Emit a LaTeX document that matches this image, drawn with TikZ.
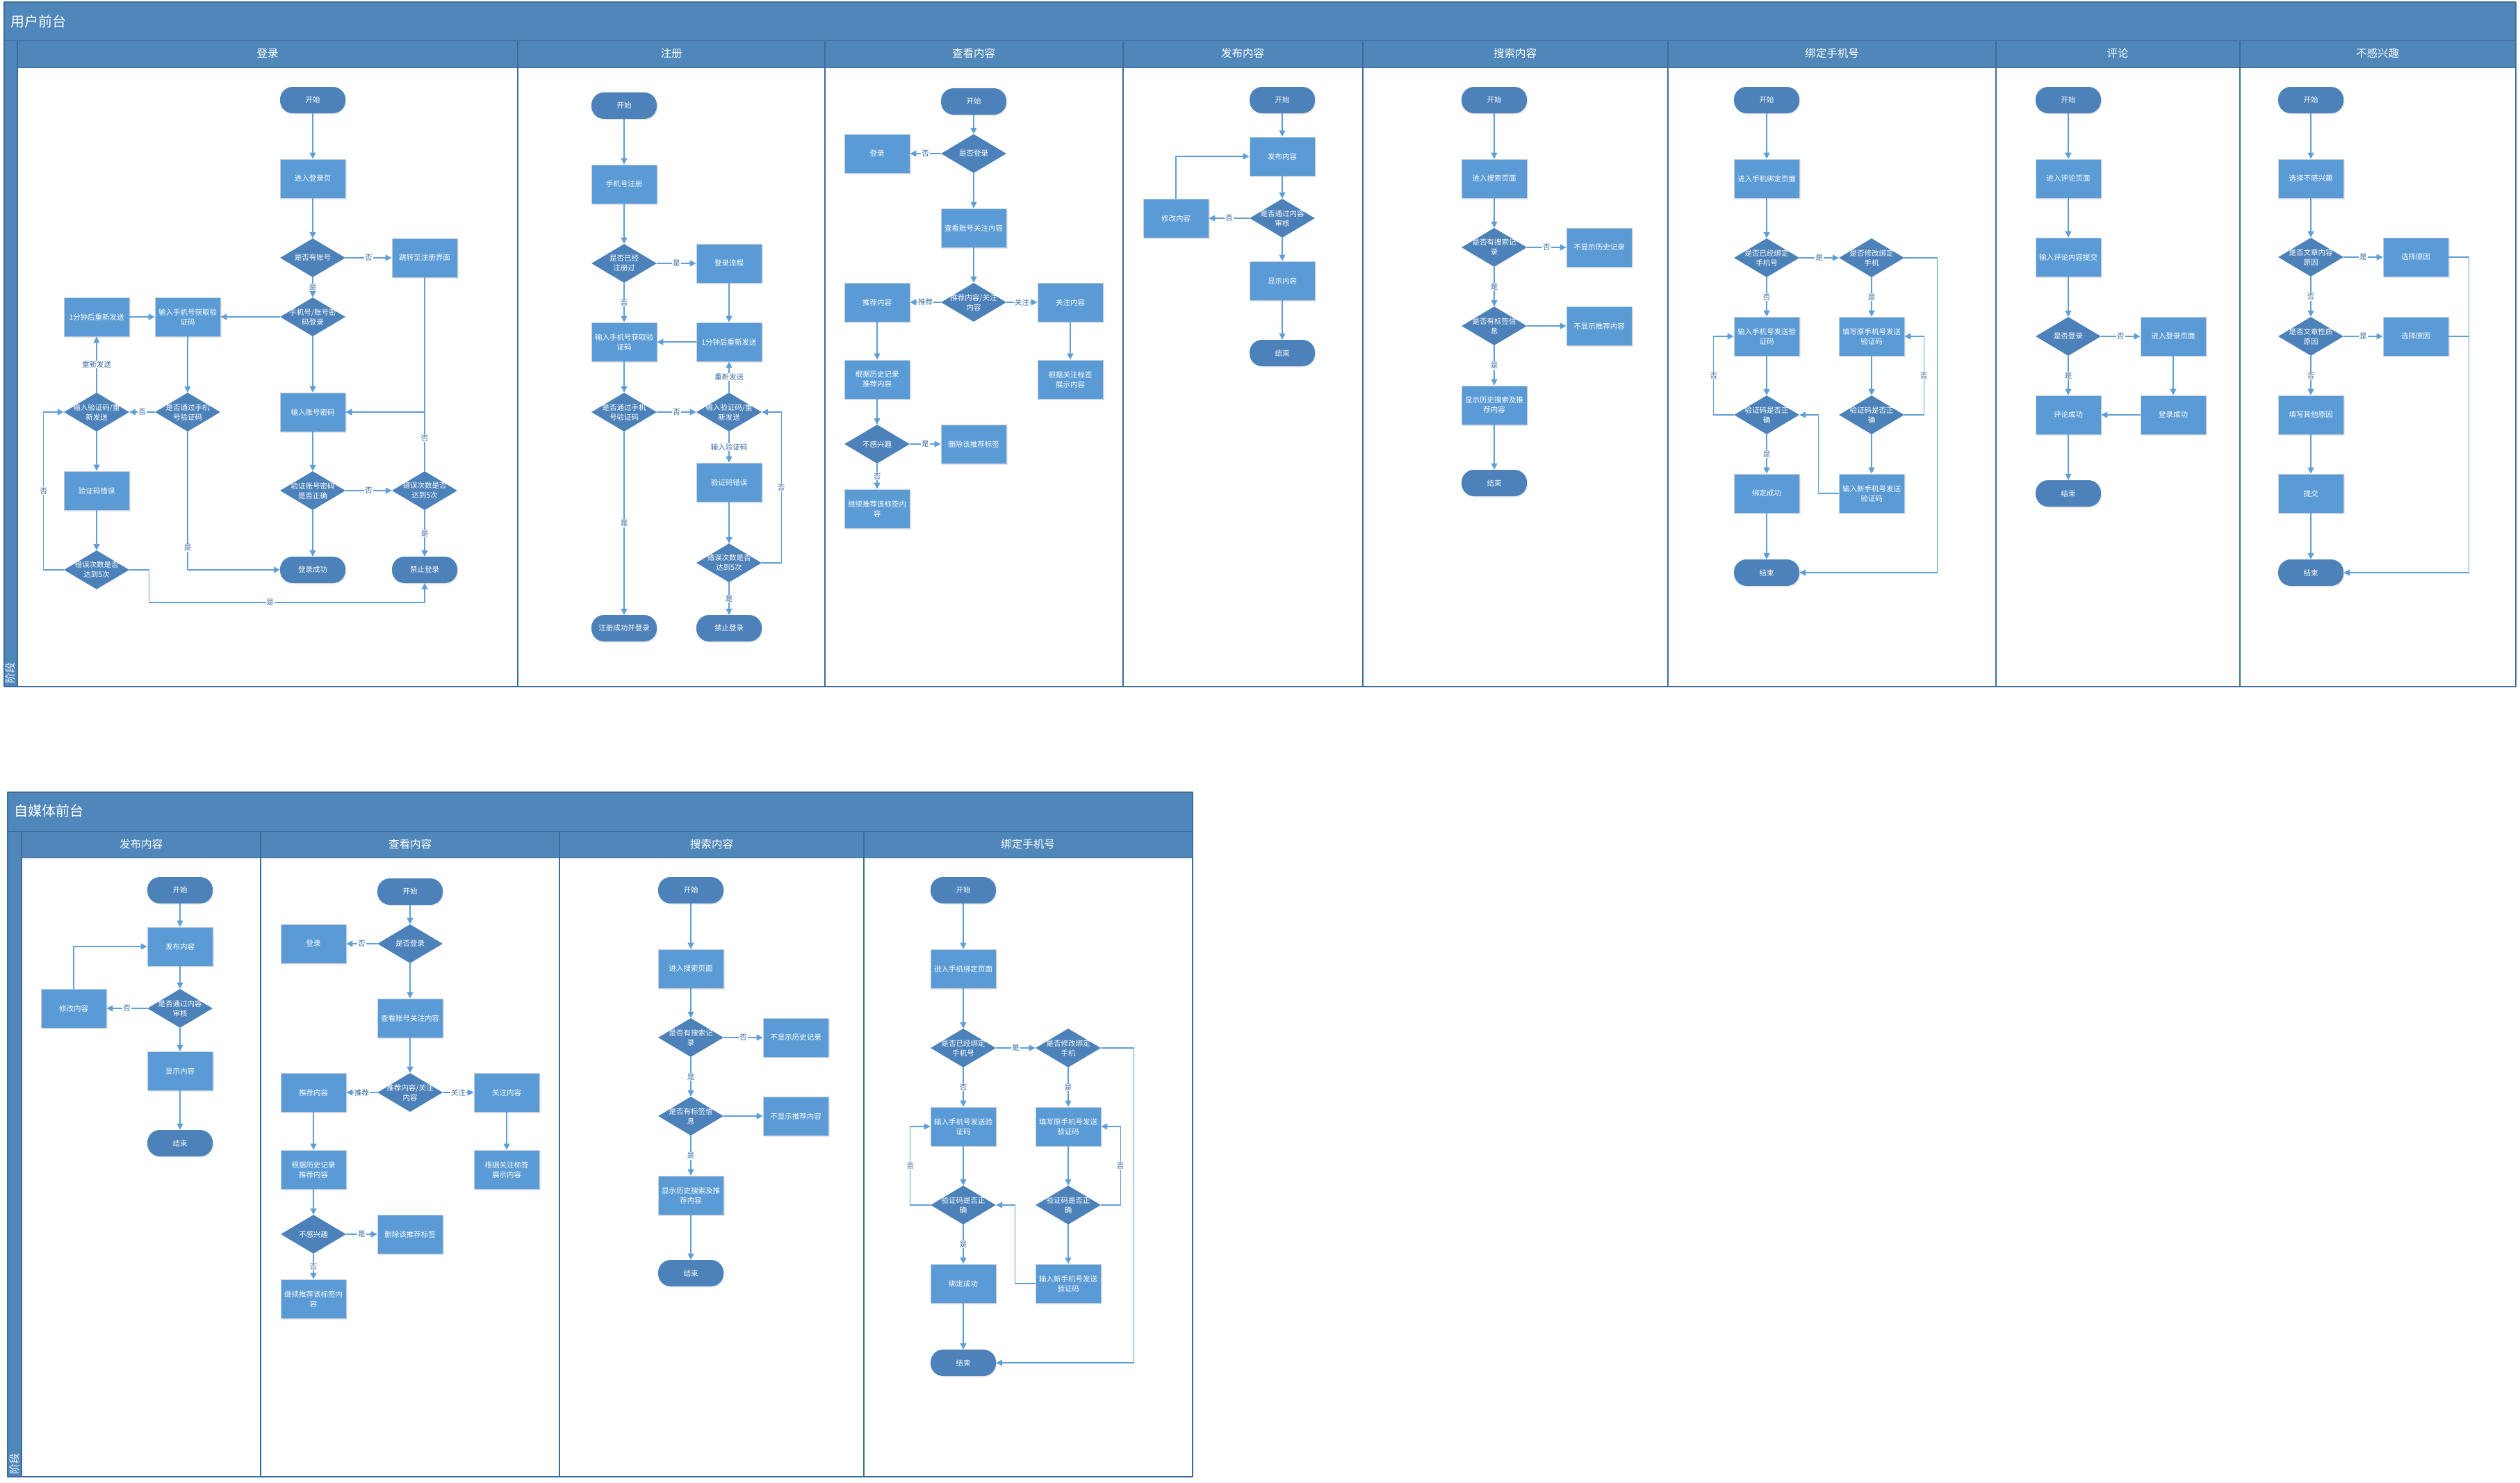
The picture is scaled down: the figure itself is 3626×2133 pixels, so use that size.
\documentclass[tikz,border=0pt]{standalone}
\usepackage{fontspec}
\newfontfamily\cjk{Noto Sans CJK SC}
\usetikzlibrary{shapes.geometric,arrows.meta,shadows}

\definecolor{hdblue}{RGB}{79,135,186}
\definecolor{frameblue}{RGB}{62,108,152}
\definecolor{boxblue}{RGB}{91,155,213}
\definecolor{decblue}{RGB}{76,129,185}
\definecolor{lineblue}{RGB}{95,158,214}
\definecolor{lblblue}{RGB}{60,106,160}
\definecolor{boxedge}{RGB}{196,206,218}

\newcommand{\nodefont}{\cjk\fontsize{10.5}{14}\selectfont}

\newcommand{\drawPublish}[3]{%
  \begin{scope}[shift={(#1,#2)}]
    \node[term] (#3Start) at (0,0) {开始};
    \node[proc] (#3Post) at (0,81) {发布内容};
    \node[dec={是否通过内容\\审核}] (#3Audit) at (0,170) {};
    \node[proc] (#3Edit) at (-153,170) {修改内容};
    \node[proc] (#3Show) at (0,260) {显示内容};
    \node[term] (#3Stop) at (0,364) {结束};
    \draw[flow] (#3Start) -- (#3Post);
    \draw[flow] (#3Post) -- (#3Audit);
    \draw[flow] (#3Audit) -- node[lbl]{否} (#3Edit);
    \draw[flow] (#3Edit.north) |- (#3Post.west);
    \draw[flow] (#3Audit) -- (#3Show);
    \draw[flow] (#3Show) -- (#3Stop);
  \end{scope}}

\newcommand{\drawBrowse}[3]{%
  \begin{scope}[shift={(#1,#2)}]
    \node[term] (#3Start) at (0,0) {开始};
    \node[dec={是否登录}] (#3Log) at (0,75) {};
    \node[proc] (#3Login) at (-139,75) {登录};
    \node[proc] (#3Follow) at (0,182) {查看账号关注内容};
    \node[dec={推荐内容/关注\\内容}] (#3Type) at (0,289) {};
    \node[proc] (#3Rec) at (-139,289) {推荐内容};
    \node[proc] (#3Fol) at (139,289) {关注内容};
    \node[proc] (#3Hist) at (-139,400) {根据历史记录\\推荐内容};
    \node[proc] (#3Tag) at (139,400) {根据关注标签\\展示内容};
    \node[dec={不感兴趣}] (#3Dis) at (-139,493) {};
    \node[proc] (#3Del) at (0,493) {删除该推荐标签};
    \node[proc] (#3Keep) at (-139,586) {继续推荐该标签内\\容};
    \draw[flow] (#3Start) -- (#3Log);
    \draw[flow] (#3Log) -- node[lbl]{否} (#3Login);
    \draw[flow] (#3Log) -- (#3Follow);
    \draw[flow] (#3Follow) -- (#3Type);
    \draw[flow] (#3Type) -- node[lbl]{推荐} (#3Rec);
    \draw[flow] (#3Type) -- node[lbl]{关注} (#3Fol);
    \draw[flow] (#3Rec) -- (#3Hist);
    \draw[flow] (#3Fol) -- (#3Tag);
    \draw[flow] (#3Hist) -- (#3Dis);
    \draw[flow] (#3Dis) -- node[lbl]{是} (#3Del);
    \draw[flow] (#3Dis) -- node[lbl]{否} (#3Keep);
  \end{scope}}

\newcommand{\drawSearch}[3]{%
  \begin{scope}[shift={(#1,#2)}]
    \node[term] (#3Start) at (0,0) {开始};
    \node[proc] (#3Page) at (0,113) {进入搜索页面};
    \node[dec={是否有搜索记\\录}] (#3HasRec) at (0,212) {};
    \node[proc] (#3NoRec) at (151,212) {不显示历史记录};
    \node[dec={是否有标签信\\息}] (#3HasTag) at (0,325) {};
    \node[proc] (#3NoTag) at (151,325) {不显示推荐内容};
    \node[proc] (#3Show) at (0,439) {显示历史搜索及推\\荐内容};
    \node[term] (#3Stop) at (0,551) {结束};
    \draw[flow] (#3Start) -- (#3Page);
    \draw[flow] (#3Page) -- (#3HasRec);
    \draw[flow] (#3HasRec) -- node[lbl]{否} (#3NoRec);
    \draw[flow] (#3HasRec) -- node[lbl]{是} (#3HasTag);
    \draw[flow] (#3HasTag) -- (#3NoTag);
    \draw[flow] (#3HasTag) -- node[lbl]{是} (#3Show);
    \draw[flow] (#3Show) -- (#3Stop);
  \end{scope}}

\newcommand{\drawBind}[3]{%
  \begin{scope}[shift={(#1,#2)}]
    \node[term] (#3Start) at (0,0) {开始};
    \node[proc] (#3Page) at (0,113) {进入手机绑定页面};
    \node[dec={是否已经绑定\\手机号}] (#3Bound) at (0,227) {};
    \node[dec={是否修改绑定\\手机}] (#3Modify) at (151,227) {};
    \node[proc] (#3Input) at (0,340) {输入手机号发送验\\证码};
    \node[proc] (#3Old) at (151,340) {填写原手机号发送\\验证码};
    \node[dec={验证码是否正\\确}] (#3CheckL) at (0,453) {};
    \node[dec={验证码是否正\\确}] (#3CheckR) at (151,453) {};
    \node[proc] (#3Ok) at (0,566) {绑定成功};
    \node[proc] (#3New) at (151,566) {输入新手机号发送\\验证码};
    \node[term] (#3Stop) at (0,680) {结束};
    \draw[flow] (#3Start) -- (#3Page);
    \draw[flow] (#3Page) -- (#3Bound);
    \draw[flow] (#3Bound) -- node[lbl]{是} (#3Modify);
    \draw[flow] (#3Bound) -- node[lbl]{否} (#3Input);
    \draw[flow] (#3Modify) -- node[lbl]{是} (#3Old);
    \draw[flow] (#3Modify.east) -- ++(47,0) |- (#3Stop.east);
    \draw[flow] (#3Input) -- (#3CheckL);
    \draw[flow] (#3CheckL.west) -- ++(-29,0) |- node[lbl,pos=0.25]{否} (#3Input.west);
    \draw[flow] (#3CheckL) -- node[lbl]{是} (#3Ok);
    \draw[flow] (#3Ok) -- (#3Stop);
    \draw[flow] (#3Old) -- (#3CheckR);
    \draw[flow] (#3CheckR.east) -- ++(28,0) |- node[lbl,pos=0.25]{否} (#3Old.east);
    \draw[flow] (#3CheckR) -- (#3New);
    \draw[flow] (#3New.west) -- ++(-29,0) |- (#3CheckL.east);
  \end{scope}}

\begin{document}
\begin{tikzpicture}[x=1pt,y=-1pt,line join=round,>={Triangle[width=9pt,length=9pt]},
  proc/.style={rectangle,draw=boxedge,line width=0.8pt,fill=boxblue,minimum width=94pt,minimum height=56pt,
    inner sep=2pt,align=center,text=white,font=\nodefont,
    drop shadow={opacity=0.18,shadow xshift=1.5pt,shadow yshift=-1.5pt}},
  term/.style={rectangle,rounded corners=18pt,fill=decblue,minimum width=94pt,minimum height=38pt,
    inner sep=2pt,text=white,font=\nodefont,
    drop shadow={opacity=0.18,shadow xshift=1.5pt,shadow yshift=-1.5pt}},
  dec/.style={diamond,fill=decblue,minimum width=94pt,minimum height=56pt,inner sep=0pt,
    label={[dectxt]center:#1}},
  dectxt/.style={text=white,align=center,font=\nodefont,inner sep=0pt},
  flow/.style={draw=lineblue,line width=1.3pt,->},
  lbl/.style={fill=white,text=lblblue,font=\nodefont,inner sep=1pt},
  lanehd/.style={text=white,font=\cjk\fontsize{15.5}{18}\selectfont},
  pooltl/.style={text=white,anchor=west,font=\cjk\fontsize{20}{24}\selectfont},
  stage/.style={text=white,rotate=90,font=\cjk\fontsize{15}{18}\selectfont}]

  \useasboundingbox (0,0) rectangle (3626,2133);

  % pools and lanes
  \fill[hdblue] (6,3) rectangle (3620,97);
  \fill[hdblue] (6,97) rectangle (25,988);
  \draw[frameblue,line width=0.8pt] (6,58) -- (3620,58);
  \draw[frameblue,line width=0.8pt] (25,97) -- (3620,97);
  \foreach \x in {25,745,1187,1616,1961,2400,2872,3223}
    \draw[frameblue,line width=1.2pt] (\x,58) -- (\x,988);
  \draw[frameblue,line width=1.5pt] (6,3) rectangle (3620,988);
  \node[pooltl] (poolA) at (12,31) {用户前台};
  \node[stage] (stageA) at (15,968) {阶段};
  \foreach \cx/\txt [count=\i] in {385/登录,966/注册,1401/查看内容,1788/发布内容,
      2180/搜索内容,2636/绑定手机号,3047/评论,3421/不感兴趣}
    \node[lanehd] (laneA\i) at (\cx,77) {\txt};

  \fill[hdblue] (11,1140) rectangle (1716,1234);
  \fill[hdblue] (11,1234) rectangle (31,2125);
  \draw[frameblue,line width=0.8pt] (11,1196) -- (1716,1196);
  \draw[frameblue,line width=0.8pt] (31,1234) -- (1716,1234);
  \foreach \x in {31,375,805,1243}
    \draw[frameblue,line width=1.2pt] (\x,1196) -- (\x,2125);
  \draw[frameblue,line width=1.5pt] (11,1140) rectangle (1716,2125);
  \node[pooltl] (poolB) at (17,1167) {自媒体前台};
  \node[stage] (stageB) at (21,2106) {阶段};
  \foreach \cx/\txt [count=\i] in {203/发布内容,590/查看内容,1024/搜索内容,1479/绑定手机号}
    \node[lanehd] (laneB\i) at (\cx,1215) {\txt};

  % login
  \node[term] (lgStart) at (450,144) {开始};
  \node[proc] (lgPage) at (450,257) {进入登录页};
  \node[dec={是否有账号}] (lgHas) at (450,371) {};
  \node[proc] (lgJump) at (611,371) {跳转至注册界面};
  \node[dec={手机号/账号密\\码登录}] (lgWay) at (450,456) {};
  \node[proc] (lgPhone) at (270,456) {输入手机号获取验\\证码};
  \node[proc] (lgWait) at (139,456) {1分钟后重新发送};
  \node[proc] (lgPwd) at (450,593) {输入账号密码};
  \node[dec={是否通过手机\\号验证码}] (lgPass) at (270,593) {};
  \node[dec={输入验证码/重\\新发送}] (lgCode) at (139,593) {};
  \node[proc] (lgWrong) at (139,706) {验证码错误};
  \node[dec={验证账号密码\\是否正确}] (lgCheck) at (450,706) {};
  \node[dec={错误次数是否\\达到5次}] (lgCntR) at (611,706) {};
  \node[dec={错误次数是否\\达到5次}] (lgCntL) at (139,820) {};
  \node[term] (lgOk) at (450,820) {登录成功};
  \node[term] (lgBan) at (611,820) {禁止登录};
  \draw[flow] (lgStart) -- (lgPage);
  \draw[flow] (lgPage) -- (lgHas);
  \draw[flow] (lgHas) -- node[lbl]{否} (lgJump);
  \draw[flow] (lgHas) -- node[lbl]{是} (lgWay);
  \draw[flow] (lgWay) -- (lgPhone);
  \draw[flow] (lgWait) -- (lgPhone);
  \draw[flow] (lgWay) -- (lgPwd);
  \draw[flow] (lgPhone) -- (lgPass);
  \draw[flow] (lgPass) -- node[lbl]{否} (lgCode);
  \draw[flow] (lgPass.south) |- node[lbl,pos=0.42]{是} (lgOk.west);
  \draw[flow] (lgCode) -- node[lbl]{重新发送} (lgWait);
  \draw[flow] (lgCode) -- (lgWrong);
  \draw[flow] (lgWrong) -- (lgCntL);
  \draw[flow] (lgCntL.west) -- ++(-29,0) |- node[lbl,pos=0.25]{否} (lgCode.west);
  \draw[flow] (lgCntL.east) -- ++(28,0) -- ++(0,47) -| node[lbl,pos=0.22]{是} (lgBan.south);
  \draw[flow] (lgJump.south) |- (lgPwd.east);
  \draw[flow] (lgCntR.north) |- node[lbl,pos=0.28]{否} (lgPwd.east);
  \draw[flow] (lgPwd) -- (lgCheck);
  \draw[flow] (lgCheck) -- node[lbl]{否} (lgCntR);
  \draw[flow] (lgCheck) -- (lgOk);
  \draw[flow] (lgCntR) -- node[lbl]{是} (lgBan);

  % register
  \node[term] (rgStart) at (898,152) {开始};
  \node[proc] (rgPhone) at (898,265) {手机号注册};
  \node[dec={是否已经\\注册过}] (rgDone) at (898,379) {};
  \node[proc] (rgLogin) at (1049,379) {登录流程};
  \node[proc] (rgInput) at (898,492) {输入手机号获取验\\证码};
  \node[proc] (rgWait) at (1049,492) {1分钟后重新发送};
  \node[dec={是否通过手机\\号验证码}] (rgPass) at (898,593) {};
  \node[dec={输入验证码/重\\新发送}] (rgCode) at (1049,593) {};
  \node[proc] (rgWrong) at (1049,694) {验证码错误};
  \node[dec={错误次数是否\\达到5次}] (rgCnt) at (1049,810) {};
  \node[term] (rgOk) at (898,904) {注册成功并登录};
  \node[term] (rgBan) at (1049,904) {禁止登录};
  \draw[flow] (rgStart) -- (rgPhone);
  \draw[flow] (rgPhone) -- (rgDone);
  \draw[flow] (rgDone) -- node[lbl]{是} (rgLogin);
  \draw[flow] (rgDone) -- node[lbl]{否} (rgInput);
  \draw[flow] (rgLogin) -- (rgWait);
  \draw[flow] (rgWait) -- (rgInput);
  \draw[flow] (rgInput) -- (rgPass);
  \draw[flow] (rgPass) -- node[lbl]{否} (rgCode);
  \draw[flow] (rgPass) -- node[lbl]{是} (rgOk);
  \draw[flow] (rgCode) -- node[lbl]{重新发送} (rgWait);
  \draw[flow] (rgCode) -- node[lbl]{输入验证码} (rgWrong);
  \draw[flow] (rgWrong) -- (rgCnt);
  \draw[flow] (rgCnt.east) -- ++(28,0) |- node[lbl,pos=0.25]{否} (rgCode.east);
  \draw[flow] (rgCnt) -- node[lbl]{是} (rgBan);

  % browse, publish, search, bind
  \drawBrowse{1401}{146}{bwA}
  \drawPublish{1845}{144}{pbA}
  \drawSearch{2150}{144}{scA}
  \drawBind{2542}{144}{bdA}

  % comment
  \node[term] (cmStart) at (2976,144) {开始};
  \node[proc] (cmPage) at (2976,257) {进入评论页面};
  \node[proc] (cmInput) at (2976,370) {输入评论内容提交};
  \node[dec={是否登录}] (cmLog) at (2976,484) {};
  \node[proc] (cmGo) at (3127,484) {进入登录页面};
  \node[proc] (cmOk) at (2976,597) {评论成功};
  \node[proc] (cmDone) at (3127,597) {登录成功};
  \node[term] (cmStop) at (2976,710) {结束};
  \draw[flow] (cmStart) -- (cmPage);
  \draw[flow] (cmPage) -- (cmInput);
  \draw[flow] (cmInput) -- (cmLog);
  \draw[flow] (cmLog) -- node[lbl]{否} (cmGo);
  \draw[flow] (cmLog) -- node[lbl]{是} (cmOk);
  \draw[flow] (cmGo) -- (cmDone);
  \draw[flow] (cmDone) -- (cmOk);
  \draw[flow] (cmOk) -- (cmStop);

  % dislike
  \node[term] (dsStart) at (3325,144) {开始};
  \node[proc] (dsPick) at (3325,257) {选择不感兴趣};
  \node[dec={是否文章内容\\原因}] (dsCont) at (3325,370) {};
  \node[proc] (dsWhyA) at (3476,370) {选择原因};
  \node[dec={是否文章性质\\原因}] (dsKind) at (3325,484) {};
  \node[proc] (dsWhyB) at (3476,484) {选择原因};
  \node[proc] (dsOther) at (3325,597) {填写其他原因};
  \node[proc] (dsSend) at (3325,710) {提交};
  \node[term] (dsStop) at (3325,824) {结束};
  \draw[flow] (dsStart) -- (dsPick);
  \draw[flow] (dsPick) -- (dsCont);
  \draw[flow] (dsCont) -- node[lbl]{是} (dsWhyA);
  \draw[flow] (dsCont) -- node[lbl]{否} (dsKind);
  \draw[flow] (dsKind) -- node[lbl]{是} (dsWhyB);
  \draw[flow] (dsKind) -- node[lbl]{否} (dsOther);
  \draw[flow] (dsOther) -- (dsSend);
  \draw[flow] (dsSend) -- (dsStop);
  \draw[flow] (dsWhyA.east) -- ++(29,0) |- (dsStop.east);
  \draw[draw=lineblue,line width=1.3pt] (dsWhyB.east) -- ++(29,0);

  % self media
  \drawPublish{259}{1281}{pbB}
  \drawBrowse{590}{1283}{bwB}
  \drawSearch{994}{1281}{scB}
  \drawBind{1386}{1281}{bdB}
\end{tikzpicture}
\end{document}
